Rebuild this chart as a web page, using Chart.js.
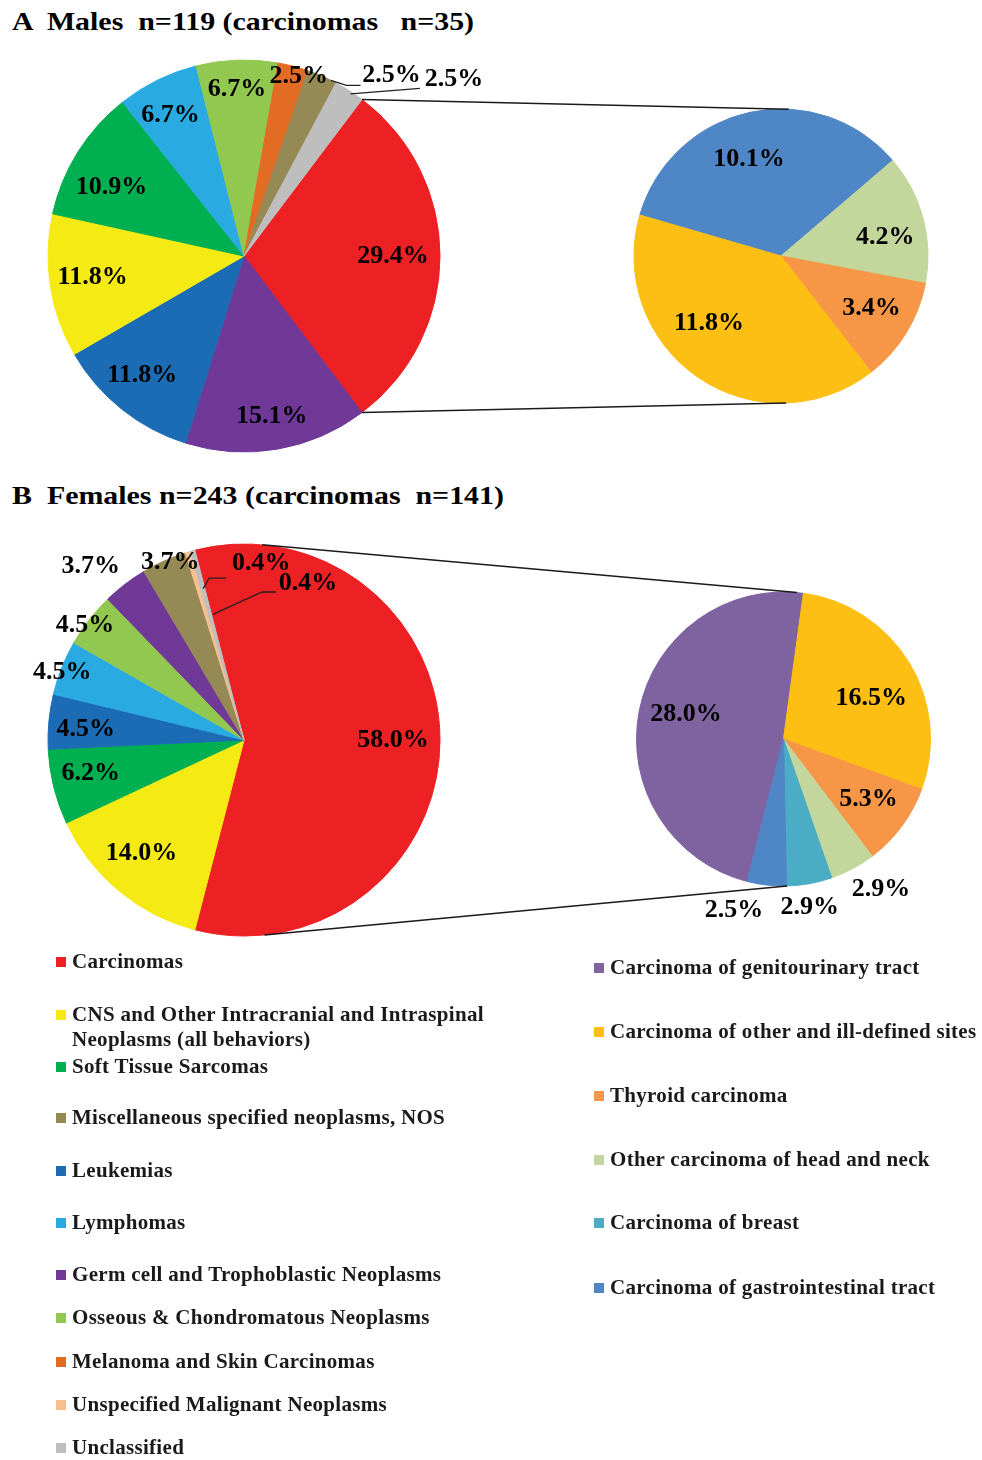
<!DOCTYPE html>
<html>
<head>
<meta charset="utf-8">
<script src="https://cdn.jsdelivr.net/npm/chart.js@4.4.1/dist/chart.umd.min.js"></script>
<style>
body{margin:0;background:#fff;}
#page{position:relative;width:982px;height:1460px;overflow:hidden;font-family:"Liberation Serif","Times New Roman",serif;color:#111;}
#page canvas{position:absolute;}
.title{position:absolute;left:12px;font-weight:bold;font-size:26px;line-height:26px;white-space:pre;transform:scaleX(1.15);transform-origin:0 0;color:#000;}
.leg{position:absolute;display:flex;align-items:flex-start;font-weight:bold;font-size:21px;line-height:25px;letter-spacing:0.3px;color:#1a1a1a;}
.leg i{display:block;width:10px;height:10px;margin:8px 6px 0 0;flex:none;}
</style>
</head>
<body>
<div id="page">
  <div class="title" style="top:9px">A  Males  n=119 (carcinomas   n=35)</div>
  <div class="title" style="top:483px">B  Females n=243 (carcinomas  n=141)</div>
  <canvas id="maleMain" width="488" height="400" style="left:0;top:56px"></canvas>
  <canvas id="maleCarc" width="300" height="300" style="left:631px;top:106px"></canvas>
  <canvas id="femaleMain" width="488" height="400" style="left:0;top:540px"></canvas>
  <canvas id="femaleCarc" width="321" height="380" style="left:623px;top:549px"></canvas>
  <canvas id="links" width="982" height="1460" style="left:0;top:0;pointer-events:none"></canvas>
</div>
<script>
// categories (legend order) and their colours
const mainCategories = ['Carcinomas', 'CNS and Other Intracranial and Intraspinal Neoplasms (all behaviors)', 'Soft Tissue Sarcomas',
  'Miscellaneous specified neoplasms, NOS', 'Leukemias', 'Lymphomas', 'Germ cell and Trophoblastic Neoplasms',
  'Osseous & Chondromatous Neoplasms', 'Melanoma and Skin Carcinomas', 'Unspecified Malignant Neoplasms', 'Unclassified'];
const mainColors = ['#ED2024', '#F5EA14', '#00AF50', '#958A55', '#1C6CB5', '#29ABE2', '#703897', '#92C84F', '#E36C25', '#F9C08F', '#BEBEBE'];
const carcCategories = ['Carcinoma of genitourinary tract', 'Carcinoma of other and ill-defined sites', 'Thyroid carcinoma',
  'Other carcinoma of head and neck', 'Carcinoma of breast', 'Carcinoma of gastrointestinal tract'];
const carcColors = ['#7F63A1', '#FDBF13', '#F79646', '#C3D69B', '#4BACC6', '#4F86C6'];

// A: males, slices clockwise as drawn (% of all 119)
const maleLabels = ['Carcinomas', 'Germ cell and Trophoblastic Neoplasms', 'Leukemias', 'CNS and Other Intracranial and Intraspinal Neoplasms (all behaviors)',
  'Soft Tissue Sarcomas', 'Lymphomas', 'Osseous & Chondromatous Neoplasms', 'Melanoma and Skin Carcinomas',
  'Miscellaneous specified neoplasms, NOS', 'Unclassified'];
const maleValues = [29.4, 15.1, 11.8, 11.8, 10.9, 6.7, 6.7, 2.5, 2.5, 2.5];
const maleCarcLabels = ['Carcinoma of gastrointestinal tract', 'Other carcinoma of head and neck', 'Thyroid carcinoma', 'Carcinoma of other and ill-defined sites'];
const maleCarcValues = [10.1, 4.2, 3.4, 11.8];

// B: females (% of all 243)
const femaleLabels = ['Carcinomas', 'CNS and Other Intracranial and Intraspinal Neoplasms (all behaviors)', 'Soft Tissue Sarcomas',
  'Leukemias', 'Lymphomas', 'Osseous & Chondromatous Neoplasms', 'Germ cell and Trophoblastic Neoplasms',
  'Miscellaneous specified neoplasms, NOS', 'Unspecified Malignant Neoplasms', 'Unclassified'];
const femaleValues = [58.0, 14.0, 6.2, 4.5, 4.5, 4.5, 3.7, 3.7, 0.4, 0.4];
const femaleCarcLabels = ['Carcinoma of genitourinary tract', 'Carcinoma of other and ill-defined sites', 'Thyroid carcinoma',
  'Other carcinoma of head and neck', 'Carcinoma of breast', 'Carcinoma of gastrointestinal tract'];
const femaleCarcValues = [28.0, 16.5, 5.3, 2.9, 2.9, 2.5];

// legend layout (y centre of each row)
const mainLegendY = [962, 1015, 1067, 1118, 1171, 1223, 1275, 1318, 1362, 1405, 1448];
const carcLegendY = [968, 1032, 1096, 1160, 1223, 1288];

// label placement: k = fraction of radius, da = degrees off slice middle
const maleMainPlace = [{k:.76}, {k:.83}, {k:.80, da:1.8}, {k:.78, da:.7}, {k:.76, da:-4.8}, {k:.81, da:-1.4}, {k:.85, da:-.3}, {k:.96, da:2.4},
  {k:1.19, da:15.7, leader:{k:1.0, da:2.8, ex:-31, ey:10, elbow:14}},
  {k:1.40, da:17.4, leader:{k:.99, da:.8, ex:-34, ey:9}}];
const maleCarcPlace = [{k:.69, da:-6.2}, {k:.72, da:5}, {k:.71, da:-1.6}, {k:.67, da:12.8}];
const femaleMainPlace = [{k:.76}, {k:.78, da:2.4}, {k:.80, da:1.8}, {k:.81, da:-1.4}, {k:.99, da:-1.1}, {k:1.0, da:-2.1}, {k:1.18, da:-4.1}, {k:.98, da:1.5},
  {k:.907, da:22.2, leader:{k:.8, da:1.6, ex:-35, ey:15, elbow:17}},
  {k:.865, da:37.4, leader:{k:.66, da:1.3, ex:-32, ey:9, elbow:14}}];
const femaleCarcPlace = [{k:.685, da:3.4}, {k:.66, da:6}, {k:.71, da:-.9}, {k:1.22, da:-4.8}, {k:1.16, da:1.3}, {k:1.21, da:9.6}];

const DEG = Math.PI / 180;
const colorOf = (name) => {
  let i = mainCategories.indexOf(name);
  if (i >= 0) return mainColors[i];
  return carcColors[carcCategories.indexOf(name)];
};
const sum = (a) => a.reduce((s, v) => s + v, 0);

function pctLabels(place) {
  return {
    id: 'pctLabels',
    afterDatasetsDraw(chart) {
      const ctx = chart.ctx;
      const arcs = chart.getDatasetMeta(0).data;
      const vals = chart.data.datasets[0].data;
      ctx.save();
      ctx.font = 'bold 26px "Liberation Serif"';
      ctx.fillStyle = '#000';
      ctx.textAlign = 'center';
      ctx.textBaseline = 'middle';
      arcs.forEach((arc, i) => {
        const p = place[i] || {};
        const mid = (arc.startAngle + arc.endAngle) / 2;
        const r = arc.outerRadius;
        const a = mid + (p.da || 0) * DEG;
        const lx = arc.x + Math.cos(a) * p.k * r, ly = arc.y + Math.sin(a) * p.k * r;
        ctx.fillText(vals[i].toFixed(1) + '%', lx, ly);
        if (p.leader) {
          const L = p.leader;
          const a0 = mid + (L.da || 0) * DEG;
          const ex = lx + L.ex, ey = ly + L.ey;
          ctx.beginPath();
          ctx.moveTo(arc.x + Math.cos(a0) * L.k * r, arc.y + Math.sin(a0) * L.k * r);
          if (L.elbow) ctx.lineTo(ex - L.elbow, ey);
          ctx.lineTo(ex, ey);
          ctx.strokeStyle = '#222';
          ctx.lineWidth = 1.3;
          ctx.stroke();
        }
      });
      ctx.restore();
    }
  };
}

function makePie(id, labels, values, radius, rotation, place) {
  const colors = labels.map(colorOf);
  return new Chart(document.getElementById(id), {
    type: 'pie',
    data: { labels: labels, datasets: [{ data: values, backgroundColor: colors, borderColor: colors, borderWidth: 1 }] },
    options: {
      responsive: false, animation: false, events: [],
      radius: radius, rotation: rotation,
      layout: { padding: 0 },
      plugins: { legend: { display: false }, tooltip: { enabled: false } }
    },
    plugins: [pctLabels(place)]
  });
}

// first slice (carcinomas) centred on 3 o'clock
const maleMain = makePie('maleMain', maleLabels, maleValues, 196, 90 - maleValues[0] / sum(maleValues) * 180, maleMainPlace);
const maleCarc = makePie('maleCarc', maleCarcLabels, maleCarcValues, 147, -73.8, maleCarcPlace);
const femaleMain = makePie('femaleMain', femaleLabels, femaleValues, 196, 90 - femaleValues[0] / sum(femaleValues) * 180, femaleMainPlace);
const femaleCarc = makePie('femaleCarc', femaleCarcLabels, femaleCarcValues, 147, 194.3, femaleCarcPlace);

// connector lines between the two pies of each panel
function pt(chart, deg) {
  const arc = chart.getDatasetMeta(0).data[0];
  const c = chart.canvas;
  return [c.offsetLeft + arc.x + arc.outerRadius * Math.sin(deg * DEG), c.offsetTop + arc.y - arc.outerRadius * Math.cos(deg * DEG)];
}
function link(ctx, left, right, leftDeg, rightDeg) {
  for (let i = 0; i < 2; i++) {
    const a = pt(left, leftDeg[i]), b = pt(right, rightDeg[i]);
    ctx.beginPath();
    ctx.moveTo(a[0], a[1]);
    ctx.lineTo(b[0], b[1]);
    ctx.stroke();
  }
}
const lctx = document.getElementById('links').getContext('2d');
lctx.strokeStyle = '#1a1a1a';
lctx.lineWidth = 1.5;
const redArc = maleMain.getDatasetMeta(0).data[0];
link(lctx, maleMain, maleCarc, [redArc.startAngle / DEG + 90, redArc.endAngle / DEG + 90], [3, 178]);
link(lctx, femaleMain, femaleCarc, [5.3, 174], [5.2, 178.6]);

// legend
const page = document.getElementById('page');
function addLegend(names, colors, ys, x, maxW) {
  names.forEach((n, i) => {
    const d = document.createElement('div');
    d.className = 'leg';
    d.style.left = x + 'px';
    d.style.top = (ys[i] - 13) + 'px';
    d.style.maxWidth = maxW + 'px';
    const sw = document.createElement('i');
    sw.style.background = colors[i];
    const t = document.createElement('span');
    t.textContent = n;
    d.appendChild(sw);
    d.appendChild(t);
    page.appendChild(d);
  });
}
addLegend(mainCategories, mainColors, mainLegendY, 56, 450);
addLegend(carcCategories, carcColors, carcLegendY, 594, 388);
</script>
</body>
</html>
